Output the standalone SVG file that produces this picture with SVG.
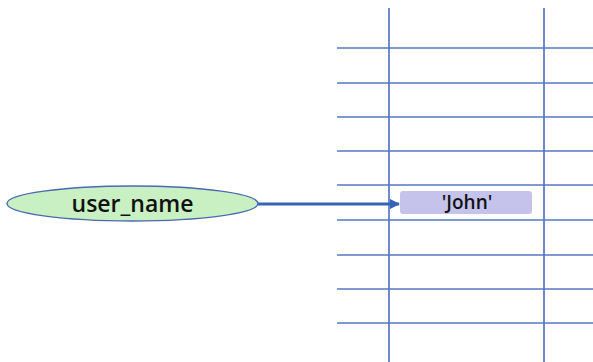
<svg xmlns="http://www.w3.org/2000/svg" width="593" height="362" viewBox="0 0 593 362">
<style>
.grid line{stroke:#5577c4;stroke-width:1.7}
.lbl{font-family:"Open Sans","Liberation Sans",sans-serif;fill:#111;text-anchor:middle;font-weight:600}
</style>
<defs>
<marker id="ah" markerWidth="10" markerHeight="10" refX="9" refY="5" orient="auto" markerUnits="userSpaceOnUse">
<path d="M0,0 L10,5 L0,10 Z" fill="#3563b8"/>
</marker>
</defs>
<rect width="593" height="362" fill="#fff"/>
<g id="memory-grid" class="grid">
<line x1="389" y1="8" x2="389" y2="362"/>
<line x1="544" y1="8" x2="544" y2="362"/>
<line x1="337" y1="48" x2="593" y2="48"/>
<line x1="337" y1="83" x2="593" y2="83"/>
<line x1="337" y1="117" x2="593" y2="117"/>
<line x1="337" y1="151" x2="593" y2="151"/>
<line x1="337" y1="185" x2="593" y2="185"/>
<line x1="337" y1="220" x2="593" y2="220"/>
<line x1="337" y1="255" x2="593" y2="255"/>
<line x1="337" y1="289" x2="593" y2="289"/>
<line x1="337" y1="323" x2="593" y2="323"/>
</g>
<g id="connectors">
<line x1="258" y1="204" x2="399" y2="204" stroke="#3563b8" stroke-width="2.8" marker-end="url(#ah)"/>
</g>
<g id="user_name">
<ellipse cx="132.5" cy="203.5" rx="125.5" ry="17.5" fill="#c8f0c2" stroke="#4a6ab0" stroke-width="1.4"/>
<text class="lbl" x="132.5" y="212" font-size="23">user_name</text>
</g>
<g id="john">
<rect x="400" y="191" width="132" height="23" rx="3" fill="#c5c3eb"/>
<text class="lbl" x="467" y="209" font-size="19">'John'</text>
</g>
</svg>
